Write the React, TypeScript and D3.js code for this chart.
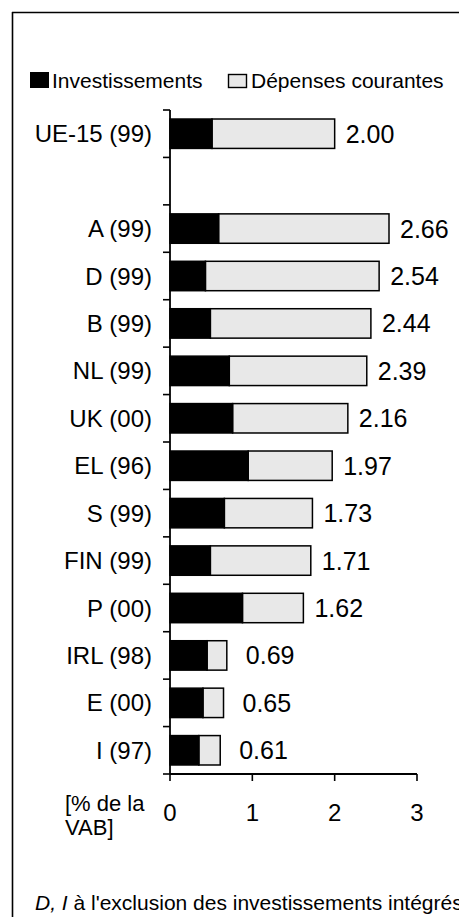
import React from "react";
import * as d3 from "d3";

// Dépenses de protection de l'environnement dans l'industrie, % de la VAB
const categories = [
  "UE-15 (99)", "", "A (99)", "D (99)", "B (99)", "NL (99)", "UK (00)",
  "EL (96)", "S (99)", "FIN (99)", "P (00)", "IRL (98)", "E (00)", "I (97)",
];
const totals = [2.0, null, 2.66, 2.54, 2.44, 2.39, 2.16, 1.97, 1.73, 1.71, 1.62, 0.69, 0.65, 0.61];
const investments = [0.51, null, 0.59, 0.43, 0.49, 0.72, 0.76, 0.95, 0.66, 0.49, 0.88, 0.45, 0.4, 0.35];
const xTicks = [0, 1, 2, 3];

const W = 459;
const H = 917;
const FONT = "'Liberation Sans', Arial, Helvetica, sans-serif";

export default function App() {
  const x = d3.scaleLinear().domain([0, 3]).range([170, 417]);
  const slots = d3
    .scaleBand<number>()
    .domain(d3.range(categories.length))
    .range([110, 774])
    .paddingInner(0)
    .paddingOuter(0);
  const bw = slots.bandwidth();
  const barH = bw * 0.62;
  const boundaries = d3.range(categories.length + 1).map((i) => 110 + i * bw);

  const rows = categories
    .map((c, i) => ({ c, i, total: totals[i], inv: investments[i] }))
    .filter((r) => r.total != null);

  return (
    <svg
      width={W}
      height={H}
      style={{ position: "absolute", left: 0, top: 0, background: "#fff" }}
      fontFamily={FONT}
    >
      {/* frame */}
      <line x1={12} y1={12.5} x2={W} y2={12.5} stroke="#000" strokeWidth={1.6} />
      <line x1={12.5} y1={12} x2={12.5} y2={H} stroke="#000" strokeWidth={1.6} />

      {/* legend */}
      <rect x={30} y={72} width={19} height={16} fill="#000" />
      <text x={52} y={88} fontSize={21} fill="#000">Investissements</text>
      <rect x={228.5} y={74.5} width={18} height={13} fill="#e8e8e8" stroke="#000" strokeWidth={1.4} />
      <text x={251} y={88} fontSize={21} fill="#000">Dépenses courantes</text>

      {/* bars */}
      {rows.map((r) => {
        const yc = (slots(r.i) as number) + bw / 2;
        const y0 = yc - barH / 2;
        return (
          <g key={r.c}>
            <rect
              x={x(r.inv as number)}
              y={y0}
              width={x(r.total as number) - x(r.inv as number)}
              height={barH}
              fill="#e8e8e8"
              stroke="#000"
              strokeWidth={1.5}
            />
            <rect
              x={x(0)}
              y={y0}
              width={x(r.inv as number) - x(0)}
              height={barH}
              fill="#000"
              stroke="#000"
              strokeWidth={1.5}
            />
            <text
              x={x(r.total as number) + ((r.total as number) < 1 ? 19 : 11)}
              y={yc}
              dy="0.36em"
              fontSize={25}
              fill="#000"
            >
              {(r.total as number).toFixed(2)}
            </text>
            <text x={152} y={yc} dy="0.36em" fontSize={24} textAnchor="end" fill="#000">
              {r.c}
            </text>
          </g>
        );
      })}

      {/* category axis */}
      <line x1={170} y1={110} x2={170} y2={774} stroke="#000" strokeWidth={1.8} />
      {boundaries.map((b, i) => (
        <line key={i} x1={163} y1={b} x2={170} y2={b} stroke="#000" strokeWidth={1.6} />
      ))}

      {/* value axis */}
      <line x1={170} y1={774} x2={x(3)} y2={774} stroke="#000" strokeWidth={1.8} />
      {xTicks.map((t) => (
        <g key={t}>
          <line x1={x(t)} y1={774} x2={x(t)} y2={781} stroke="#000" strokeWidth={1.6} />
          <text x={x(t)} y={821} fontSize={24} textAnchor="middle" fill="#000">
            {t}
          </text>
        </g>
      ))}
      <text x={65} y={811} fontSize={22} fill="#000">[% de la</text>
      <text x={65} y={835} fontSize={22} fill="#000">VAB]</text>

      {/* note */}
      <text x={35} y={910} fontSize={21} fill="#000">
        <tspan fontStyle="italic">D, I</tspan>
        <tspan> à l'exclusion des investissements intégrés</tspan>
      </text>
    </svg>
  );
}
